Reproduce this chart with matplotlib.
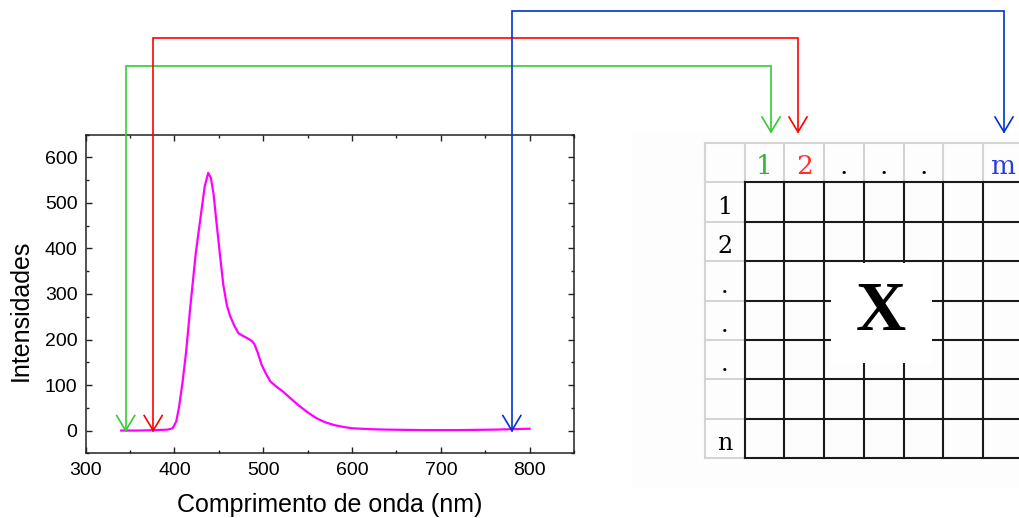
import matplotlib
matplotlib.use("Agg")
import matplotlib.pyplot as plt
from matplotlib.patches import Rectangle
from matplotlib.ticker import MultipleLocator

# Spectrum
wavelength = [340, 360, 380, 392, 398, 402, 405, 409, 413, 418, 424, 429, 434, 438,
              441, 444, 447, 451, 455, 459, 463, 467, 472, 477, 482, 487, 490, 494,
              498, 503, 508, 515, 522, 530, 540, 550, 560, 570, 580, 590, 600, 620,
              640, 660, 680, 700, 720, 740, 760, 780, 800]
intensity = [0, 0, 1, 2, 5, 20, 50, 105, 171, 275, 390, 463, 536, 566,
             555, 520, 463, 390, 320, 275, 250, 232, 214, 208, 203, 197, 190, 170,
             145, 125, 108, 96, 86, 72, 55, 40, 27, 18, 12, 8, 5, 3,
             2, 1.5, 1, 1, 1, 1.5, 2, 3, 4]

# Arrows: wavelength picked on the spectrum -> column of the matrix
arrow_wl = [345, 376, 780]
arrow_colors = ["#33cc33", "#ff0000", "#0033cc"]

# Matrix labels
col_labels = ["1", "2", ".", ".", ".", "", "m"]
col_colors = ["#2db82d", "#ff3030", "black", "black", "black", "black", "#2a3fd8"]
row_labels = ["1", "2", ".", ".", ".", "", "n"]

W, H = 1019, 518
fig = plt.figure(figsize=(W / 100, H / 100), dpi=100)

ax = fig.add_axes([85.7 / W, 1 - 453.3 / H, (574 - 85.7) / W, (453.3 - 134.7) / H])
ax.plot(wavelength, intensity, color="#ff00ff", lw=1.6)
ax.set_xlim(300, 850)
ax.set_ylim(-50, 650)
ax.xaxis.set_major_locator(MultipleLocator(100))
ax.xaxis.set_minor_locator(MultipleLocator(50))
ax.yaxis.set_major_locator(MultipleLocator(100))
ax.yaxis.set_minor_locator(MultipleLocator(50))
ax.tick_params(which="both", direction="in", top=True, right=True,
               labelsize=14, width=1, color="#222222")
ax.tick_params(which="major", length=4.5, pad=6)
ax.tick_params(which="minor", length=2.5)
for lab in ax.get_xticklabels() + ax.get_yticklabels():
    lab.set_fontfamily("Liberation Sans")
for s in ax.spines.values():
    s.set_linewidth(1.1)
    s.set_color("#222222")
ax.set_xlabel("Comprimento de onda (nm)", fontsize=18, family="Liberation Sans")
ax.set_ylabel("Intensidades", fontsize=18, family="Liberation Sans")
ax.xaxis.set_label_coords(0.5, -0.125)
ax.yaxis.set_label_coords(-0.108, 0.45)

# overlay in pixel coordinates (y down)
ov = fig.add_axes([0, 0, 1, 1], zorder=3)
ov.set_xlim(0, W)
ov.set_ylim(H, 0)
ov.axis("off")


def to_px(x, y):
    d = ax.transData.transform((x, y))
    return d[0], H - d[1]


# faint background of the matrix picture
ov.add_patch(Rectangle((632, 133), W - 632, 355, facecolor="#fdfdfd",
                       edgecolor="none", zorder=0))

# matrix grid
x0, cw = 705, 39.75
y0, rh = 143, 39.4
cols = [x0 + cw * i for i in range(len(col_labels) + 2)]
rows = [y0 + rh * i for i in range(len(row_labels) + 2)]
gray, black = "#d4d4d4", "#1a1a1a"
ov.plot([cols[0], W], [rows[0], rows[0]], color=gray, lw=1.5, zorder=1)
for cx in cols:
    ov.plot([cx, cx], [rows[0], rows[1]], color=gray, lw=1.5, zorder=1)
ov.plot([cols[0], cols[0]], [rows[0], rows[-1]], color=gray, lw=1.5, zorder=1)
for ry in rows[1:]:
    ov.plot([cols[0], cols[1]], [ry, ry], color=gray, lw=1.5, zorder=1)
for cx in cols[1:]:
    ov.plot([cx, cx], [rows[1], rows[-1]], color=black, lw=1.5, zorder=2)
for ry in rows[1:]:
    ov.plot([cols[1], W], [ry, ry], color=black, lw=1.5, zorder=2)
ov.add_patch(Rectangle((831, 263), 101, 100, facecolor="white",
                       edgecolor="none", zorder=3))
ov.text(881, 313, "X", fontsize=50, fontweight="bold", family="Liberation Serif",
        ha="center", va="center", zorder=4)

for i, (lab, c) in enumerate(zip(col_labels, col_colors)):
    ov.text((cols[i + 1] + cols[i + 2]) / 2, rows[1] - 8, lab, color=c,
            fontsize=19, family="DejaVu Serif", ha="center", va="baseline")
for i, lab in enumerate(row_labels):
    ov.text((cols[0] + cols[1]) / 2, rows[i + 2] - 8, lab, color="black",
            fontsize=17, family="DejaVu Serif", ha="center", va="baseline")

# arrows from the spectrum to the matrix columns
levels = [66, 38, 11]
targets = [771, 798, 1004]
tip_y = 132
for wl, c, lv, tx in zip(arrow_wl, arrow_colors, levels, targets):
    sx, sy = to_px(wl, 0)
    ov.plot([sx, sx, tx, tx], [sy, lv, lv, tip_y], color=c, lw=1.2, zorder=5,
            solid_joinstyle="miter")
    for px, py in [(sx, sy), (tx, tip_y)]:
        ov.plot([px - 9, px, px + 9], [py - 15, py, py - 15], color=c, lw=1.2,
                zorder=5)

fig.savefig("out.png", dpi=100)
